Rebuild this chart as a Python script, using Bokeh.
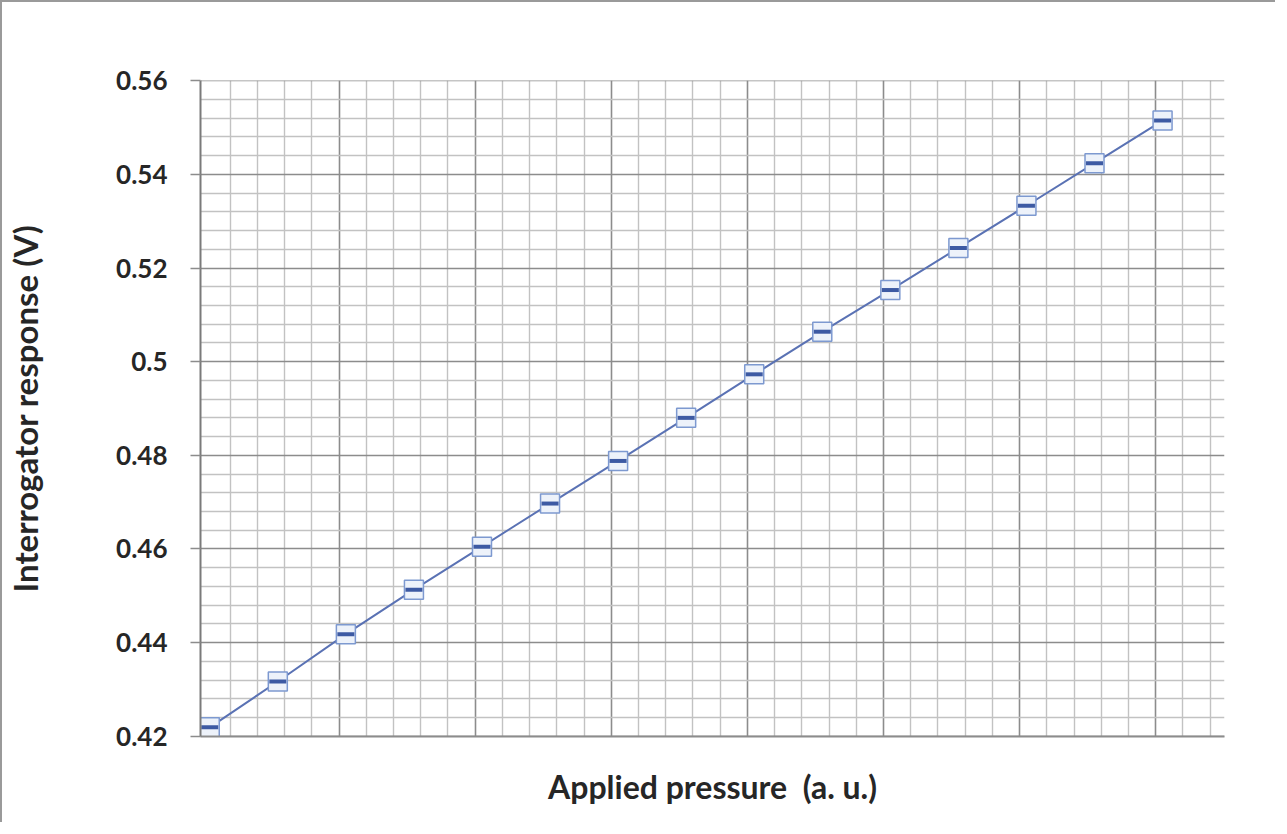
from bokeh.plotting import figure
from bokeh.models import Range1d, FixedTicker
from bokeh.embed import file_html
from bokeh.resources import INLINE

# ---- data ----
pressure = list(range(1, 16))
response = [0.4219, 0.4317, 0.4418, 0.4513, 0.4605, 0.4697, 0.4788, 0.4880,
            0.4973, 0.5064, 0.5153, 0.5243, 0.5333, 0.5424, 0.5515]
y_tick_values = [0.42, 0.44, 0.46, 0.48, 0.5, 0.52, 0.54, 0.56]
y_tick_labels = ["0.42", "0.44", "0.46", "0.48", "0.5", "0.52", "0.54", "0.56"]

# grid positions
x_major_grid = [round(2.9 + 2 * k, 3) for k in range(7)]
x_minor_grid = [round(0.9 + 0.4 * k, 3) for k in range(1, 38)]
x_minor_grid = [v for v in x_minor_grid if all(abs(v - m) > 1e-6 for m in x_major_grid) and v < 15.9]
y_minor_grid = [round(0.42 + 0.004 * k, 3) for k in range(1, 35)]
y_minor_grid = [v for v in y_minor_grid if all(abs(v - m) > 1e-6 for m in y_tick_values)]

FONT = "Lato"
TXT = "#262626"

p = figure(width=1275, height=822, output_backend="svg", toolbar_location=None,
           x_range=Range1d(0.864, 15.91), y_range=Range1d(0.41995, 0.56005),
           min_border_left=196, min_border_right=53, min_border_top=78,
           min_border_bottom=88)
p.styles = {"border-left": "2px solid #9a9a9a", "border-top": "2px solid #9a9a9a"}
p.outline_line_color = None
p.background_fill_color = "white"
p.border_fill_color = "white"

# grids
p.xgrid.ticker = FixedTicker(ticks=x_major_grid, minor_ticks=x_minor_grid)
p.ygrid.ticker = FixedTicker(ticks=y_tick_values, minor_ticks=y_minor_grid)
for g in (p.xgrid, p.ygrid):
    g.grid_line_color = "#8c8c8c"
    g.grid_line_width = 1.6
    g.minor_grid_line_color = "#c2c2c2"
    g.minor_grid_line_width = 1.4

# y axis
ya = p.yaxis[0]
ya.ticker = FixedTicker(ticks=y_tick_values, minor_ticks=[])
ya.major_label_overrides = dict(zip(y_tick_values, y_tick_labels))
ya.axis_line_color = "#7a7a7a"
ya.axis_line_width = 2
ya.major_tick_line_color = "#8c8c8c"
ya.major_tick_line_width = 1.6
ya.major_tick_out = 10
ya.major_tick_in = 0
ya.minor_tick_line_color = None
ya.major_label_standoff = 23
ya.major_label_text_font = FONT
ya.major_label_text_font_style = "bold"
ya.major_label_text_font_size = "26px"
ya.major_label_text_color = TXT
ya.axis_label = "Interrogator response (V)"
ya.axis_label_text_font = FONT
ya.axis_label_text_font_style = "bold"
ya.axis_label_text_font_size = "33px"
ya.axis_label_text_color = TXT
ya.axis_label_standoff = 68

# x axis
xa = p.xaxis[0]
xa.ticker = FixedTicker(ticks=[], minor_ticks=[])
xa.axis_line_color = "#8c8c8c"
xa.axis_line_width = 2
xa.major_tick_line_color = None
xa.minor_tick_line_color = None
xa.major_label_text_font_size = "0px"
xa.axis_label = "Applied pressure\u00a0 (a. u.)"
xa.axis_label_text_font = FONT
xa.axis_label_text_font_style = "bold"
xa.axis_label_text_font_size = "32px"
xa.axis_label_text_color = TXT
xa.axis_label_standoff = 30

# data
p.line(pressure, response, line_color="#5a72b4", line_width=2)
p.scatter(pressure, response, marker="square", size=19, line_color="#7d99d0",
          fill_color="#edf2fa", line_width=1.5)
p.scatter(pressure, response, marker="dash", size=17, line_color="#3d5aa3",
          line_width=4)

open("out.html", "w").write(file_html(p, INLINE))
